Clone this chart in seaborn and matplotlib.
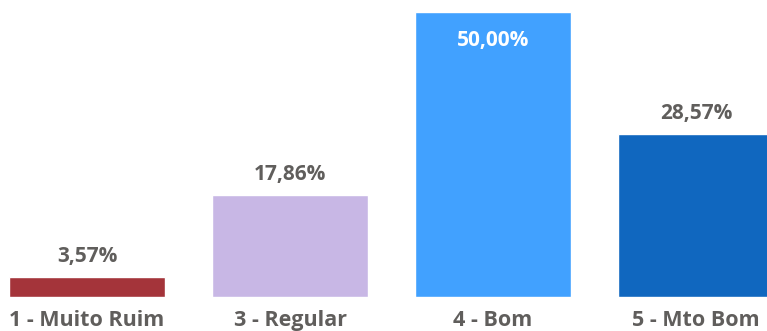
import matplotlib
matplotlib.use("Agg")
import matplotlib.pyplot as plt
import seaborn as sns
import pandas as pd

categories = ["1 - Muito Ruim", "3 - Regular", "4 - Bom", "5 - Mto Bom"]
shares = [3.57, 17.86, 50.00, 28.57]
bar_colors = ["#A4343A", "#C8B7E5", "#41A1FF", "#1067BF"]

df = pd.DataFrame({"categoria": categories, "pct": shares})

sns.set_theme(style="white")
plt.rcParams["font.family"] = ["Open Sans", "DejaVu Sans"]

fig = plt.figure(figsize=(7.67, 3.31), dpi=100)
ax = fig.add_axes([0, 34 / 331, 1, 297 / 331])

sns.barplot(data=df, x="categoria", y="pct", hue="categoria",
            palette=bar_colors, width=0.768, legend=False, ax=ax,
            saturation=1)

ax.set_xlim(-87 / 203, 680 / 203)
ax.set_ylim(0, 50 * 297 / 285)
sns.despine(ax=ax, left=True, bottom=True)
ax.set_yticks([])
ax.set_xlabel("")
ax.set_ylabel("")
ax.tick_params(axis="x", length=0, pad=9.5, labelsize=15.5, labelcolor="#605E5C")
for lbl in ax.get_xticklabels():
    lbl.set_fontweight("bold")

# data labels: outside on top, inside (white) for the tallest bar
top = max(shares)
for i, v in enumerate(shares):
    txt = f"{v:.2f}".replace(".", ",") + "%"
    if v == top:
        ax.annotate(txt, (i, v), xytext=(0, -13), textcoords="offset points",
                    ha="center", va="top", color="white",
                    fontsize=15, fontweight="bold")
    else:
        ax.annotate(txt, (i, v), xytext=(0, 7), textcoords="offset points",
                    ha="center", va="bottom", color="#605E5C",
                    fontsize=15, fontweight="bold")

fig.savefig("out.png", dpi=100)
